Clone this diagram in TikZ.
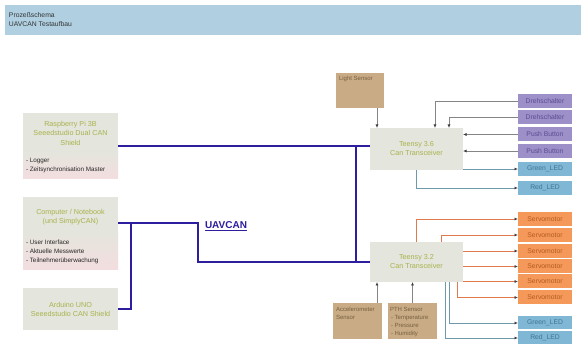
\documentclass[tikz,border=0pt]{standalone}
\usepackage{fontspec}
\setmainfont{Liberation Sans}
\usetikzlibrary{arrows.meta}
\definecolor{hdrblue}{HTML}{B0D0E2}
\definecolor{boxgray}{HTML}{E4E5DC}
\definecolor{boxpink}{HTML}{F3DDDF}
\definecolor{olivetxt}{HTML}{A9B24C}
\definecolor{busblue}{HTML}{2C1E9E}
\definecolor{tanfill}{HTML}{C9AB86}
\definecolor{tantxt}{HTML}{76603F}
\definecolor{purfill}{HTML}{9D90C8}
\definecolor{purtxt}{HTML}{5B4C92}
\definecolor{ledfill}{HTML}{80B7D4}
\definecolor{ledtxt}{HTML}{3F7596}
\definecolor{orfill}{HTML}{F4995A}
\definecolor{ortxt}{HTML}{B45A1E}
\definecolor{orline}{HTML}{E07A4C}
\definecolor{ledline}{HTML}{6E99AA}
\definecolor{inline}{HTML}{858585}
\begin{document}
\begin{tikzpicture}[x=1pt,y=-1pt,
  every node/.style={inner sep=0pt, outer sep=0pt},
  leftbox/.style={fill=boxgray, minimum width=95pt},
  ttl/.style={text=olivetxt, align=center, font=\fontsize{7.2}{9.5}\selectfont},
  bul/.style={text=black!85, align=left, anchor=west, font=\fontsize{6.3}{9}\selectfont},
  teensy/.style={fill=boxgray, minimum width=93pt, text=olivetxt, align=center, font=\fontsize{7.2}{9}\selectfont},
  rbox/.style={minimum width=54pt, minimum height=14pt, font=\fontsize{6.8}{8}\selectfont},
  purbox/.style={rbox, fill=purfill, text=purtxt},
  ledbox/.style={rbox, fill=ledfill, text=ledtxt},
  orbox/.style={rbox, fill=orfill, text=ortxt},
  tanbox/.style={fill=tanfill, minimum width=49pt, minimum height=36pt},
  tantext/.style={text=tantxt, align=left, anchor=north west, font=\fontsize{6}{8}\selectfont},
  bus/.style={draw=busblue, line width=1.8pt},
  tipg/.style={-{Latex[length=3.5pt,width=3pt,color=black!75]}},
  inarr/.style={draw=inline, line width=0.8pt, tipg},
  ledarr/.style={draw=ledline, line width=0.8pt, tipg},
  orarr/.style={draw=orline, line width=0.8pt, tipg}
]
\useasboundingbox (0,0) rectangle (586,344);
\fill[white] (0,0) rectangle (586,344);

% header
\node[fill=hdrblue, minimum width=576pt, minimum height=30pt, anchor=north west] (hdr) at (5,5) {};
\node[align=left, anchor=west, font=\fontsize{6.8}{9}\selectfont, text=black!80] (hdrtxt) at (9,19.5) {Prozeßschema\\UAVCAN Testaufbau};

% left boxes
\node[leftbox, minimum height=66pt] (rpi) at (70.5,146) {};
\shade[top color=boxgray, bottom color=boxpink] ([yshift=-39pt]rpi.north west) rectangle (rpi.south east);
\node[ttl] (rpit) at (70.5,133) {Raspberry Pi 3B\\Seeedstudio Dual CAN\\Shield};
\node[bul] (rpib) at (26,165.5) {- Logger\\- Zeitsynchronisation Master};

\node[leftbox, minimum height=73pt] (comp) at (70.5,233.5) {};
\shade[top color=boxgray, bottom color=boxpink] ([yshift=-35pt]comp.north west) rectangle (comp.south east);
\node[ttl] (compt) at (70.5,217) {Computer / Notebook\\(und SimplyCAN)};
\node[bul] (compb) at (26,252) {- User Interface\\- Aktuelle Messwerte\\- Teilnehmerüberwachung};

\node[leftbox, minimum height=42pt] (ard) at (70.5,309) {};
\node[ttl] (ardt) at (70.5,309.5) {Arduino UNO\\Seeedstudio CAN Shield};

% teensy boxes
\node[teensy, minimum height=42pt] (t36) at (416.5,149) {Teensy 3.6\\Can Transceiver};
\node[teensy, minimum height=40pt] (t32) at (416.5,262) {Teensy 3.2\\Can Transceiver};

% bus
\coordinate (kb) at (198,262);
\coordinate (kj) at (356,0);
\coordinate (ka) at (131,223);
\draw[bus] (rpi.east) -- (rpi.east -| t36.west);
\draw[bus] (rpi.east -| kj) -- (kj |- t32.west);
\draw[bus] ([yshift=-26pt]comp.north east) -| (kb) -- (t32.west);
\draw[bus] (ka) |- (ard.east);
\node[anchor=base west, text=busblue, font=\fontsize{10}{12}\bfseries\selectfont] (uav) at (205,229) {\underline{UAVCAN}};

% light sensor
\node[tanbox, minimum width=48pt, minimum height=35pt] (light) at (360,90.5) {};
\node[tantext] (lightt) at ([xshift=3pt,yshift=-3.5pt]light.north west) {Light Sensor};
\draw[inarr] ([xshift=17pt]light.south) -- ([xshift=17pt]light.south |- t36.north);

% inputs / outputs teensy 3.6
\node[purbox] (d1) at (545,101) {Drehschalter};
\node[purbox] (d2) at (545,117.5) {Drehschalter};
\node[purbox] (p1) at (545,134.5) {Push Button};
\node[purbox] (p2) at (545,151) {Push Button};
\node[ledbox] (g1) at (545,169) {Green\_LED};
\node[ledbox] (r1) at (545,188) {Red\_LED};
\draw[inarr] (d1.west) -| ([xshift=18.5pt]t36.north);
\draw[inarr] (d2.west) -| ([xshift=32.5pt]t36.north);
\draw[inarr] (p1.west) -- (p1.west -| t36.east);
\draw[inarr] (p2.west) -- (p2.west -| t36.east);
\draw[ledarr] (g1.west -| t36.east) -- (g1.west);
\draw[ledarr] (t36.south) |- (r1.west);

% teensy 3.2 outputs
\node[orbox] (s1) at (545,219) {Servomotor};
\node[orbox] (s2) at (545,235) {Servomotor};
\node[orbox] (s3) at (545,251) {Servomotor};
\node[orbox] (s4) at (545,266.5) {Servomotor};
\node[orbox] (s5) at (545,281.5) {Servomotor};
\node[orbox] (s6) at (545,297.5) {Servomotor};
\node[ledbox, minimum height=13pt] (g2) at (545,323) {Green\_LED};
\node[ledbox, minimum height=13pt] (r2) at (545,338) {Red\_LED};
\draw[orarr] (t32.north) |- (s1.west);
\draw[orarr] ([xshift=24.5pt]t32.north) |- (s2.west);
\draw[orarr] (t32.east |- s3.west) -- (s3.west);
\draw[orarr] (t32.east |- s4.west) -- (s4.west);
\draw[orarr] (t32.east |- s5.west) -- (s5.west);
\draw[orarr] ([xshift=40.5pt]t32.south) |- (s6.west);
\draw[ledarr] ([xshift=32.5pt]t32.south) |- (g2.west);
\draw[ledarr] ([xshift=28.5pt]t32.south) |- (r2.west);

% sensors below teensy 3.2
\node[tanbox] (acc) at (357.5,321) {};
\node[tantext] (acct) at ([xshift=3pt,yshift=-4pt]acc.north west) {Accelerometer\\Sensor};
\node[tanbox] (pth) at (412.5,321) {};
\node[tantext] (ptht) at ([xshift=2pt,yshift=-4pt]pth.north west) {PTH Sensor\\\hspace*{1pt}- Temperature\\\hspace*{1pt}- Pressure\\\hspace*{1pt}- Humidity};
\draw[inarr] ([xshift=19.5pt]acc.north) -- ([xshift=19.5pt]acc.north |- t32.south);
\draw[inarr] (pth.north) -- (pth.north |- t32.south);
\end{tikzpicture}
\end{document}
